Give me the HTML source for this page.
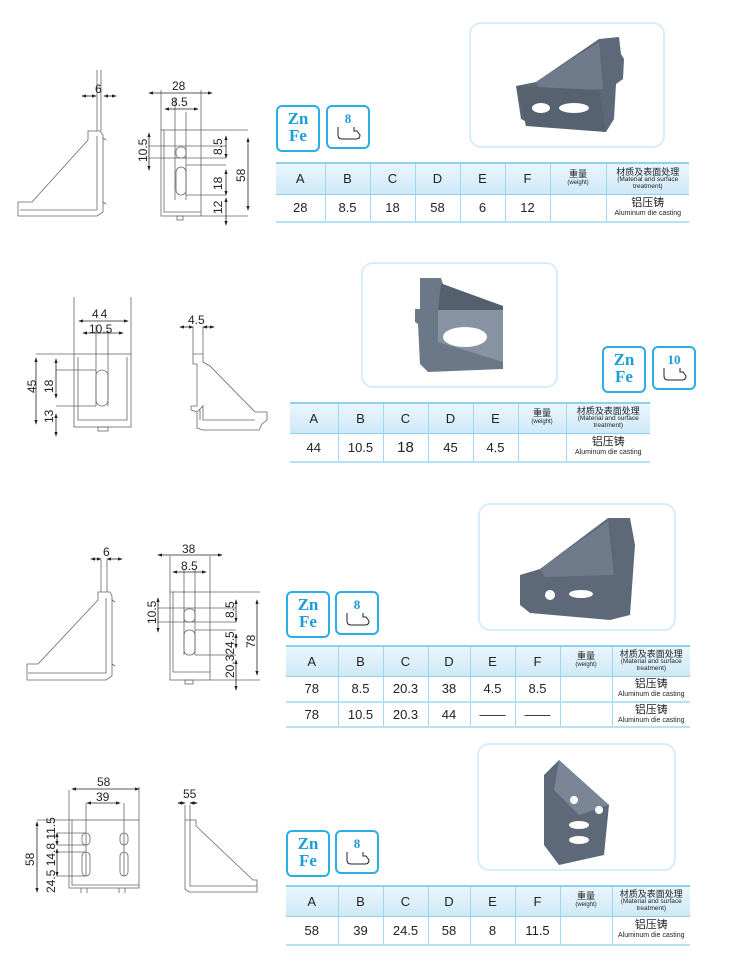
<!DOCTYPE html>
<html><head><meta charset="utf-8"><style>
body{margin:0;background:#fff;width:748px;height:976px;position:relative;overflow:hidden;font-family:"Liberation Sans","Noto Sans CJK SC",sans-serif}
.abs{position:absolute}
.photo{position:absolute;border:2px solid #d6eef8;border-radius:12px;background:#fff}
.ic{position:absolute;width:40px;height:40px;border:2px solid #29aee6;border-radius:6px;background:#fff}
.zn{color:#1a9ddb;font-family:"Liberation Serif",serif;font-weight:bold;font-size:17px;line-height:17px;text-align:center;padding-top:3px}
table{position:absolute;border-collapse:collapse;font-size:13px;color:#222}
td{border-left:1px solid #9fd8f2;border-right:1px solid #9fd8f2;text-align:center;padding:0}
tr.h td{background:linear-gradient(#eaf6fd,#cfe9f7);border-top:2px solid #8fd0ef;border-bottom:1px solid #8fd0ef}
tr.d td{border-bottom:2px solid #b7e2f5}
td:first-child{border-left:none}td:last-child{border-right:none}
.w{font-size:9px;line-height:9px}.w small{font-size:6px;display:block}
.m{font-size:9px;line-height:8px}.m small{font-size:6.5px;display:block;line-height:7px}
.al{font-size:11px;line-height:11px}.al small{font-size:7px;display:block;line-height:9px}
svg text{font-family:"Liberation Sans",sans-serif;font-size:12px;fill:#222}
</style></head><body>

<svg class="abs" style="left:0;top:0" width="748" height="976">
<defs><marker id="a" markerWidth="6" markerHeight="6" refX="5" refY="3" orient="auto-start-reverse"><path d="M0,1 L6,3 L0,5z" fill="#222"/></marker></defs>
<g fill="none" stroke="#666" stroke-width="0.8">
<path d="M18,202 L32,202 L88,140 L88,131 L100,131 L103,135 L103,212 L97,216 L18,216Z M97,136 V210 M20,210 H97 M97,70 V131 M101,70 V131 M103,138 L106,140 M103,202 L106,204"/>
<rect x="161" y="130" width="40" height="86"/><path d="M164,130 V212 H201 M175,98 V200 M186,112 V200 M161,90 V130 M201,90 V130 M149,146 H226 M149,158 H226 M186,165 H226 M186,195 H226 M201,130 H248 M201,216 H248"/>
<rect x="176" y="147" width="10" height="11" rx="4"/><rect x="176" y="167" width="10" height="28" rx="5"/>
<rect x="177" y="216" width="6" height="4"/>
<rect x="74" y="354" width="57" height="73"/><path d="M78,357 V420 H127 V357 M74,297 V354 M131,297 V354 M96,325 V406 M108,330 V406 M36,354 H74 M56,370 H96 M56,406 H96"/>
<rect x="96" y="370" width="12" height="36" rx="6"/><rect x="98" y="427" width="10" height="4"/>
<path d="M193,354 H203 V362 L210,366 L255,412 H267 V420 L262,424 L259,430 H203 L197,428 V412 L191,410 V406 H197 V364 H193Z M197,412 L203,406 V420 H255 M193,327 V354 M203,327 V354 M200,410 V420"/>
<path d="M27,664 L38,664 L98,600 V592 L110,592 L112,596 V676 L106,680 L27,680Z M106,598 V673 H28 M101,560 V592 M107,560 V592 M112,600 L115,602 M112,664 L115,666"/>
<rect x="170" y="592" width="40" height="88"/><path d="M173,592 V672 H210 M184,570 V655 M195,570 V655 M170,556 V592 M210,556 V592 M158,608 H236 M158,622 H236 M195,630 H236 M195,655 H236 M210,592 H260 M210,680 H260"/>
<rect x="184" y="609" width="11" height="13" rx="4"/><rect x="184" y="630" width="11" height="25" rx="5"/><rect x="185" y="680" width="8" height="4"/>
<rect x="69" y="820" width="70" height="68"/><path d="M72,820 V885 H139 M69,790 V820 M139,787 V820 M86,803 V876 M124,803 V876 M37,820 H69 M57,833 H86 M57,845 H86 M57,852 H86 M57,876 H86"/>
<rect x="82" y="833" width="8" height="12" rx="4"/><rect x="120" y="833" width="8" height="12" rx="4"/><rect x="82" y="852" width="8" height="24" rx="4"/><rect x="120" y="852" width="8" height="24" rx="4"/>
<path d="M81,888 V893 M87,888 V893 M119,888 V893 M125,888 V893"/>
<path d="M185,820 V889 L189,892 H257 V880 H253 L196,826 V820Z M190,820 V886 H257 M185,820 H196 M185,805 V820 M190,805 V820"/>
</g>
<g stroke="#222" stroke-width="0.8" fill="none" marker-start="url(#a)" marker-end="url(#a)">
<path d="M82,96 H96"/><path d="M104,96 H116"/>
<path d="M149,93 H212"/><path d="M165,109 H198"/>
<path d="M149,133 V170"/><path d="M226,136 V158"/><path d="M226,170 V195"/><path d="M226,198 V225"/><path d="M248,138 V210"/>
<path d="M79,321 H128"/><path d="M83,333 H123"/><path d="M36,358 V424"/><path d="M56,359 V398"/><path d="M56,414 V436"/>
<path d="M180,327 H193"/><path d="M203,327 H214"/>
<path d="M91,559 H101"/><path d="M107,559 H122"/><path d="M158,555 H222"/><path d="M173,572 H206"/>
<path d="M158,598 V632"/><path d="M236,600 V622"/><path d="M236,634 V648"/><path d="M236,660 V690"/><path d="M257,600 V675"/>
<path d="M72,789 H139"/><path d="M87,803 H120"/><path d="M37,822 V892"/><path d="M57,833 V845"/><path d="M57,849 V876"/>
<path d="M178,803 H185"/><path d="M190,803 H197"/>
</g>
<text x="95" y="93">6</text><text x="172" y="90">28</text><text x="171" y="106">8.5</text>
<text transform="translate(147,162) rotate(-90)">10.5</text><text transform="translate(222,155) rotate(-90)">8.5</text><text transform="translate(222,190) rotate(-90)">18</text><text transform="translate(222,214) rotate(-90)">12</text><text transform="translate(245,182) rotate(-90)">58</text>
<text x="92" y="318" letter-spacing="2">44</text><text x="89" y="333">10.5</text><text transform="translate(36,393) rotate(-90)">45</text><text transform="translate(53,393) rotate(-90)">18</text><text transform="translate(53,423) rotate(-90)">13</text><text x="188" y="324">4.5</text>
<text x="103" y="556">6</text><text x="182" y="553">38</text><text x="181" y="570">8.5</text>
<text transform="translate(156,624) rotate(-90)">10.5</text><text transform="translate(234,618) rotate(-90)">8.5</text><text transform="translate(234,678) rotate(-90)">20.324.5</text><text transform="translate(255,648) rotate(-90)">78</text>
<text x="97" y="786">58</text><text x="96" y="801">39</text><text transform="translate(34,866) rotate(-90)">58</text><text transform="translate(55,893) rotate(-90)">24.5 14.8 11.5</text><text x="183" y="798">55</text>
</svg>

<div class="photo" style="left:469px;top:22px;width:192px;height:122px"><svg width="192" height="122">
<polygon points="128,15 148,13 150,30 153,35 152,55 145,60 143,95 135,108 60,100 50,95 45,62 65,58" fill="#5d6978"/>
<polygon points="65,58 128,18 132,65 70,68" fill="#6f7b8b"/>
<polygon points="45,62 128,66 135,108 55,102" fill="#56626f"/>
<ellipse cx="70" cy="84" rx="9" ry="5" fill="#fff"/><ellipse cx="103" cy="84" rx="15" ry="5" fill="#fff"/></svg></div>
<div class="photo" style="left:361px;top:262px;width:193px;height:122px"><svg width="193" height="122">
<polygon points="57,14 78,14 80,20 140,42 140,105 65,108 57,100 55,60 52,58 52,45 57,45" fill="#6b7888"/>
<polygon points="78,20 140,42 140,46 75,46" fill="#55606e"/>
<polygon points="75,46 140,46 140,98 75,78" fill="#8793a2"/>
<ellipse cx="102" cy="73" rx="22" ry="10" fill="#fff"/></svg></div>
<div class="photo" style="left:478px;top:503px;width:194px;height:124px"><svg width="194" height="124">
<polygon points="128,13 150,13 155,40 150,110 130,115 50,108 40,100 40,70 60,64" fill="#5d6978"/>
<polygon points="60,64 128,16 134,70 65,72" fill="#6f7b8b"/>
<circle cx="70" cy="90" r="5" fill="#fff"/><ellipse cx="101" cy="89" rx="12" ry="4" fill="#fff"/></svg></div>
<div class="photo" style="left:477px;top:743px;width:195px;height:124px"><svg width="195" height="124">
<polygon points="65,30 80,15 130,60 125,110 80,120 65,100" fill="#5d6978"/><polygon points="80,15 130,60 100,70 75,45" fill="#7a8696"/><circle cx="95" cy="55" r="4" fill="#fff"/><circle cx="120" cy="65" r="4" fill="#fff"/><ellipse cx="100" cy="80" rx="10" ry="4" fill="#fff"/><ellipse cx="100" cy="95" rx="10" ry="4" fill="#fff"/></svg></div>

<div class="ic zn" style="left:276px;top:105px">Zn<br>Fe</div>
<div class="ic" style="left:326px;top:105px"><div class="zn" style="font-size:13px">8</div><svg class="abs" style="left:8px;top:18px" width="26" height="18"><path d="M2,2 V10 Q2,14 6,14 H20 Q24,14 24,10 L21,6 H18 V2" fill="none" stroke="#222" stroke-width="1"/></svg></div>
<div class="ic zn" style="left:602px;top:346px">Zn<br>Fe</div>
<div class="ic" style="left:652px;top:346px"><div class="zn" style="font-size:13px">10</div><svg class="abs" style="left:8px;top:18px" width="26" height="18"><path d="M2,2 V10 Q2,14 6,14 H20 Q24,14 24,10 L21,6 H18 V2" fill="none" stroke="#222" stroke-width="1"/></svg></div>
<div class="ic zn" style="left:286px;top:591px">Zn<br>Fe</div>
<div class="ic" style="left:335px;top:591px"><div class="zn" style="font-size:13px">8</div><svg class="abs" style="left:8px;top:18px" width="26" height="18"><path d="M2,2 V10 Q2,14 6,14 H20 Q24,14 24,10 L21,6 H18 V2" fill="none" stroke="#222" stroke-width="1"/></svg></div>
<div class="ic zn" style="left:286px;top:830px">Zn<br>Fe</div>
<div class="ic" style="left:335px;top:830px"><div class="zn" style="font-size:13px">8</div><svg class="abs" style="left:8px;top:18px" width="26" height="18"><path d="M2,2 V10 Q2,14 6,14 H20 Q24,14 24,10 L21,6 H18 V2" fill="none" stroke="#222" stroke-width="1"/></svg></div>

<table style="left:276px;top:162px;width:413px">
<colgroup><col width="49"><col width="45"><col width="45"><col width="45"><col width="45"><col width="45"><col width="56"><col width="83"></colgroup>
<tr class="h" style="height:31px"><td>A</td><td>B</td><td>C</td><td>D</td><td>E</td><td>F</td><td class="w">重量<small>(weight)</small></td><td class="m">材质及表面处理<small>(Material and surface treatment)</small></td></tr>
<tr class="d" style="height:28px"><td>28</td><td>8.5</td><td>18</td><td>58</td><td>6</td><td>12</td><td></td><td class="al">铝压铸<small>Aluminum die casting</small></td></tr>
</table>
<table style="left:290px;top:402px;width:360px">
<colgroup><col width="48"><col width="45"><col width="45"><col width="45"><col width="45"><col width="48"><col width="84"></colgroup>
<tr class="h" style="height:30px"><td>A</td><td>B</td><td>C</td><td>D</td><td>E</td><td class="w">重量<small>(weight)</small></td><td class="m">材质及表面处理<small>(Material and surface treatment)</small></td></tr>
<tr class="d" style="height:29px"><td>44</td><td>10.5</td><td style="font-size:15px">18</td><td>45</td><td>4.5</td><td></td><td class="al">铝压铸<small>Aluminum die casting</small></td></tr>
</table>
<table style="left:286px;top:645px;width:404px">
<colgroup><col width="52"><col width="45"><col width="45"><col width="42"><col width="45"><col width="45"><col width="52"><col width="78"></colgroup>
<tr class="h" style="height:30px"><td>A</td><td>B</td><td>C</td><td>D</td><td>E</td><td>F</td><td class="w">重量<small>(weight)</small></td><td class="m">材质及表面处理<small>(Material and surface treatment)</small></td></tr>
<tr class="d" style="height:26px"><td>78</td><td>8.5</td><td>20.3</td><td>38</td><td>4.5</td><td>8.5</td><td></td><td class="al">铝压铸<small>Aluminum die casting</small></td></tr>
<tr class="d" style="height:25px"><td>78</td><td>10.5</td><td>20.3</td><td>44</td><td>——</td><td>——</td><td></td><td class="al">铝压铸<small>Aluminum die casting</small></td></tr>
</table>
<table style="left:286px;top:885px;width:404px">
<colgroup><col width="52"><col width="45"><col width="45"><col width="42"><col width="45"><col width="45"><col width="52"><col width="78"></colgroup>
<tr class="h" style="height:30px"><td>A</td><td>B</td><td>C</td><td>D</td><td>E</td><td>F</td><td class="w">重量<small>(weight)</small></td><td class="m">材质及表面处理<small>(Material and surface treatment)</small></td></tr>
<tr class="d" style="height:29px"><td>58</td><td>39</td><td>24.5</td><td>58</td><td>8</td><td>11.5</td><td></td><td class="al">铝压铸<small>Aluminum die casting</small></td></tr>
</table>
</body></html>
